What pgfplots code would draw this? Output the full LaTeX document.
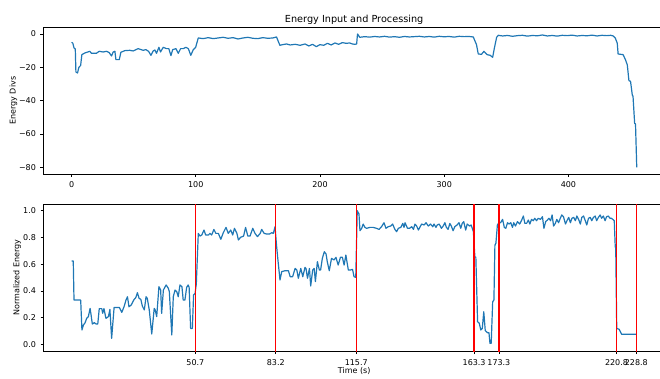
\documentclass[border=0pt]{standalone}
\usepackage{fontspec}
\setmainfont{DejaVu Sans}
\usepackage{pgfplots}
\pgfplotsset{compat=1.18}
\definecolor{mblue}{RGB}{31,119,180}
\pgfplotsset{
  mystyle/.style={
    scale only axis,
    width=621.7pt,
    axis line style={line width=0.64pt, black},
    tick align=outside,
    tick pos=left,
    major tick length=2.8pt,
    every tick/.style={line width=0.64pt, black},
    tick label style={font=\fontsize{8}{9.6}\selectfont, inner sep=0pt},
    xticklabel style={yshift=-4.9pt},
    yticklabel style={xshift=-4.4pt},
    label style={font=\fontsize{8}{9.6}\selectfont},
    every axis plot/.append style={line width=1.2pt},
  }
}
\begin{document}
\begin{tikzpicture}
\begin{axis}[mystyle,
  at={(43.3pt,204pt)}, anchor=south west,
  height=146.7pt,
  xmin=-22.75, xmax=477.75, ymin=-84, ymax=4,
  xtick={0,100,200,300,400}, xticklabels={0,100,200,300,400},
  ytick={-80,-60,-40,-20,0}, yticklabels={−80,−60,−40,−20,0},
  title={Energy Input and Processing},
  every axis title shift=0pt,
  title style={font=\fontsize{9.7}{11}\selectfont, at={(axis description cs:0.5,1.0306)}, anchor=base, inner sep=0pt, yshift=0pt},
  ylabel={Energy Divs},
  ylabel style={at={(axis description cs:-0.0447,0.5)}, anchor=base, inner sep=0pt},
]
\addplot[mblue, line join=round] coordinates {
(0,-5)(1,-5.5)(2,-8.4)(3,-9)(3.5,-22.8)(4.8,-23.4)(5.9,-20)(7.3,-18.9)(8.3,-12.4)(10.7,-11.4)
(14.7,-10.4)(16,-11.6)(20,-11.6)(22.2,-10.4)(25.4,-10.8)(28.2,-10.4)(30.3,-11.2)(32.2,-13.2)(33.5,-10.8)(34.9,-10.4)
(35.7,-15.4)(38.4,-15.4)(39.7,-11)(42.9,-10)(46.9,-9.8)(49.6,-10.2)(53.6,-8.8)(57.7,-9.8)(59.8,-9.4)(62,-10.4)
(63.9,-12.8)(65.7,-10.2)(67.1,-9.6)(68.4,-11.6)(70.3,-8)(71.6,-10.8)(73.8,-8)(76.4,-8.8)(78.3,-8.8)(80,-13)
(81.4,-9.4)(84,-8.8)(85.9,-11.6)(87.8,-8.8)(90,-8.8)(92,-8)(94,-8.8)(96,-12.8)(98,-9.4)(99.9,-8)
(102,-2.4)(106,-2.8)(110,-2.2)(114,-2.8)(118,-2.4)(122,-2.0)(126,-2.6)(130,-2.2)(134,-3.0)(138,-2.4)
(142,-2.0)(146,-2.6)(150,-2.8)(154,-2.2)(158,-2.6)(162,-2.4)(165,-1.8)(167.7,-6.8)(170,-6.4)(173,-6)
(176,-6.6)(180,-6.2)(184,-6.8)(188,-6.0)(191,-7.2)(194,-6.2)(197,-7.6)(200,-6.4)(203,-6.8)(206,-5.6)
(209,-6.6)(212,-5.4)(215,-6.2)(218,-5.2)(221,-5.6)(224,-5.4)(226,-6)(228,-6.2)(229.5,-6)(230.2,0)
(232,-2)(236,-1.6)(240,-1.9)(244,-1.5)(248,-1.8)(252,-1.4)(256,-1.9)(260,-1.6)(264,-2.0)(268,-1.5)
(272,-1.8)(276,-1.6)(280,-1.4)(284,-1.8)(288,-1.5)(292,-1.9)(296,-1.4)(300,-1.7)(304,-1.5)(308,-1.9)
(312,-1.4)(316,-1.6)(320,-1.5)(323.4,-1.8)(326,-6.4)(327.4,-12)(330,-12.2)(332,-10.4)(334.5,-12.4)(337,-12.8)
(339,-14)(340.3,-8.8)(342.2,-2)(343.5,-0.8)(347,-1.2)(351,-0.9)(355,-1.4)(359,-1.0)(363,-0.8)(367,-1.3)
(371,-0.9)(375,-1.1)(379,-0.6)(383,-1.2)(387,-0.9)(391,-1.3)(395,-0.8)(399,-1.0)(403,-0.7)(407,-1.2)
(411,-0.9)(415,-1.1)(419,-0.7)(423,-1.2)(427,-0.8)(431,-1.0)(434,-0.8)(436,-1.2)(437.7,-2.4)(439.3,-5.5)
(440,-12)(444,-12.4)(446,-15.6)(447.4,-18.6)(448.7,-28)(450,-28.4)(451.4,-36.6)(452,-37.4)(453.3,-53.6)(454,-54)
(455,-80)
};
\end{axis}
\begin{axis}[mystyle,
  at={(43.3pt,26.7pt)}, anchor=south west,
  height=147.3pt,
  xmin=-10.7, xmax=240.4, ymin=-0.0524, ymax=1.05,
  xtick={50.7,83.2,115.7,163.3,173.3,220.8,228.8},
  xticklabels={50.7,83.2,115.7,163.3,173.3,220.8,228.8},
  ytick={0,0.2,0.4,0.6,0.8,1.0}, yticklabels={0.0,0.2,0.4,0.6,0.8,1.0},
  xlabel={Time (s)},
  xlabel style={at={(axis description cs:0.5,-0.1473)}, anchor=base, inner sep=0pt},
  ylabel={Normalized Energy},
  ylabel style={at={(axis description cs:-0.0383,0.5)}, anchor=base, inner sep=0pt},
]
\addplot[mblue, line join=round] coordinates {
(0.77,0.623)(1.4,0.623)(1.7,0.331)(4.4,0.331)(4.9,0.107)(5.5,0.144)(6.2,0.162)(6.8,0.194)(7.5,0.207)(8.2,0.269)
(8.6,0.219)(9.1,0.152)(9.9,0.162)(10.6,0.152)(11.3,0.152)(11.9,0.267)(12.9,0.267)(13.3,0.232)(13.8,0.267)(14.6,0.194)
(15.6,0.207)(16.2,0.261)(16.9,0.045)(17.9,0.276)(19,0.276)(20,0.276)(21,0.239)(22,0.286)(22.7,0.331)(23.3,0.356)
(23.9,0.281)(24.8,0.294)(25.8,0.331)(26.7,0.351)(27.3,0.386)(28,0.344)(28.7,0.336)(29.3,0.286)(30.1,0.257)(30.8,0.356)
(31.3,0.344)(32.1,0.257)(33.1,0.077)(34.1,0.269)(34.5,0.257)(35.1,0.207)(36,0.431)(36.7,0.406)(37.1,0.232)(37.8,0.406)
(38.9,0.444)(39.8,0.419)(40.2,0.394)(41.2,0.070)(41.8,0.356)(42.5,0.406)(43.2,0.394)(43.8,0.356)(44.5,0.444)(45.3,0.431)
(45.8,0.331)(46.5,0.331)(47.2,0.426)(47.8,0.444)(48.2,0.426)(48.8,0.119)(49.5,0.119)(50,0.369)(50.6,0.381)(51.1,0.451)
(51.9,0.830)(52.6,0.810)(53.3,0.818)(54.2,0.855)(54.9,0.818)(56,0.818)(56.6,0.830)(57.3,0.818)(58.2,0.860)(59,0.830)
(60,0.830)(61,0.786)(62,0.835)(63.1,0.875)(64,0.830)(65,0.855)(65.8,0.818)(66.5,0.868)(67.5,0.830)(68.1,0.781)
(69,0.801)(70.2,0.810)(71,0.875)(71.9,0.810)(72.8,0.810)(73.9,0.868)(74.8,0.830)(75.8,0.806)(76.9,0.830)(77.5,0.860)
(78.5,0.830)(79.6,0.825)(80.6,0.825)(81.6,0.835)(82.2,0.830)(82.9,0.880)(83.5,0.740)(84,0.643)(84.9,0.481)(85.6,0.544)
(87,0.551)(88.3,0.551)(89,0.506)(90,0.506)(91,0.568)(91.7,0.556)(92.3,0.494)(93.3,0.568)(94.1,0.506)(95,0.576)
(95.4,0.568)(96,0.494)(96.8,0.568)(97.3,0.436)(98.1,0.556)(98.7,0.568)(99.2,0.469)(100,0.618)(100.8,0.556)(101.3,0.556)
(102,0.643)(102.8,0.693)(103.5,0.676)(104,0.618)(104.8,0.551)(105.7,0.643)(106.7,0.631)(107.5,0.651)(108.4,0.593)(109.3,0.651)
(110.1,0.651)(110.8,0.593)(111.5,0.668)(112.5,0.556)(113.4,0.556)(114.2,0.561)(114.8,0.506)(115.5,0.501)(116.1,1.0)(116.8,0.975)
(117.2,0.850)(117.9,0.868)(118.5,0.900)(119.2,0.875)(119.9,0.868)(121.2,0.875)(122.5,0.875)(123.9,0.868)(124.9,0.860)(125.9,0.880)
(126.9,0.910)(127.7,0.868)(128.6,0.880)(129.6,0.885)(130.4,0.900)(131.3,0.860)(132,0.843)(132.7,0.868)(133.7,0.875)(134.5,0.905)
(135,0.875)(135.4,0.910)(136.4,0.868)(137.2,0.868)(138.1,0.880)(138.8,0.860)(139.4,0.900)(140.1,0.885)(140.8,0.855)(141.5,0.880)
(142.1,0.900)(143.1,0.893)(143.9,0.910)(144.8,0.885)(145.7,0.900)(146.6,0.880)(147.1,0.900)(147.9,0.875)(148.4,0.893)(149.2,0.900)
(150.1,0.868)(150.8,0.885)(151.5,0.910)(152.1,0.875)(152.8,0.860)(153.5,0.905)(154.1,0.885)(154.8,0.850)(155.5,0.880)(156.4,0.893)
(157.2,0.910)(157.9,0.868)(158.5,0.905)(159.1,0.918)(159.9,0.855)(160.5,0.900)(161.5,0.885)(162.1,0.893)(163,0.843)(163.6,0.656)
(164,0.651)(164.7,0.169)(165.4,0.157)(166,0.107)(166.6,0.119)(167.2,0.244)(167.8,0.102)(168.7,0.087)(169.3,0.087)(169.7,0.007)
(170.2,0.007)(170.8,0.319)(171.3,0.331)(171.7,0.743)(172.1,0.756)(172.7,0.893)(173.3,0.910)(174,0.910)(174.8,0.935)(175.5,0.875)
(176.1,0.868)(176.8,0.910)(177.4,0.900)(178.1,0.910)(178.8,0.875)(179.3,0.910)(180,0.885)(180.8,0.918)(181.7,0.900)(182.4,0.925)
(183.2,0.960)(183.8,0.905)(184.5,0.905)(185.2,0.930)(185.8,0.900)(186.5,0.935)(187.2,0.925)(187.8,0.943)(188.5,0.925)(189.2,0.943)
(190.1,0.935)(190.9,0.955)(191.5,0.868)(192.2,0.918)(192.9,0.930)(193.5,0.943)(194.2,0.925)(194.8,0.968)(195.4,0.885)(196.1,0.905)
(196.7,0.935)(197.4,0.910)(198.1,0.943)(198.7,0.968)(199.4,0.955)(200.2,0.900)(200.8,0.925)(201.5,0.950)(202.2,0.910)(202.8,0.943)
(203.5,0.950)(204.2,0.925)(204.8,0.960)(205.5,0.935)(206.2,0.900)(206.8,0.950)(207.5,0.960)(208.2,0.925)(208.8,0.893)(209.5,0.943)
(210.2,0.950)(210.8,0.925)(211.5,0.950)(212.2,0.960)(212.8,0.925)(213.5,0.950)(214.2,0.968)(214.8,0.943)(215.5,0.960)(216.2,0.925)
(216.8,0.955)(217.5,0.960)(218.2,0.943)(218.8,0.943)(219.9,0.925)(220.3,0.730)(220.5,0.718)(220.9,0.119)(221.9,0.112)(222.9,0.075)
(228.8,0.075)
};
\addplot[red, line width=1.4pt] coordinates {(50.7,-0.2)(50.7,1.2)};
\addplot[red, line width=1.4pt] coordinates {(83.2,-0.2)(83.2,1.2)};
\addplot[red, line width=1.4pt] coordinates {(115.7,-0.2)(115.7,1.2)};
\addplot[red, line width=1.4pt] coordinates {(163.3,-0.2)(163.3,1.2)};
\addplot[red, line width=1.4pt] coordinates {(173.3,-0.2)(173.3,1.2)};
\addplot[red, line width=1.4pt] coordinates {(220.8,-0.2)(220.8,1.2)};
\addplot[red, line width=1.4pt] coordinates {(228.8,-0.2)(228.8,1.2)};
\end{axis}
\pgfresetboundingbox
\useasboundingbox (0,0) rectangle (660pt,378pt);
\end{tikzpicture}
\end{document}
